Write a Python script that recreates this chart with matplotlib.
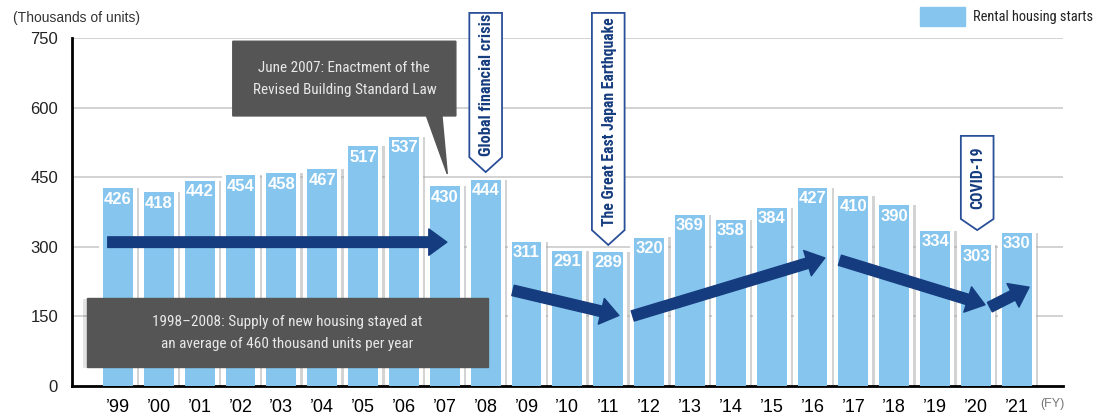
import matplotlib
matplotlib.use("Agg")
import matplotlib.pyplot as plt
import matplotlib.patheffects as pe
from matplotlib.patches import Polygon, Rectangle
from matplotlib import font_manager

years = ["’99", "’00", "’01", "’02", "’03", "’04", "’05", "’06", "’07", "’08", "’09", "’10",
         "’11", "’12", "’13", "’14", "’15", "’16", "’17", "’18", "’19", "’20", "’21"]
starts = [426, 418, 442, 454, 458, 467, 517, 537, 430, 444, 311, 291,
          289, 320, 369, 358, 384, 427, 410, 390, 334, 303, 330]
y_ticks = [0, 150, 300, 450, 600, 750]

BLUE = "#85c5ee"
NAVY = "#153c7e"
BOX = "#555555"

names = {f.name for f in font_manager.fontManager.ttflist}
NARROW = next((n for n in ["Liberation Sans Narrow", "Roboto Condensed", "Roboto"] if n in names),
              "Liberation Sans")
plt.rcParams["font.family"] = ["Liberation Sans", "DejaVu Sans"]

fig = plt.figure(figsize=(10.97, 4.16), dpi=100)
ax = fig.add_axes([0.0656, 0.0721, 0.9034, 0.8366])
ax.set_xlim(-1.126, 23.13)
ax.set_ylim(0, 750)
renderer = fig.canvas.get_renderer()


def fit(txt, target_px, vertical=False):
    # shrink or grow a text so its longest side spans target_px pixels
    bb = txt.get_window_extent(renderer)
    size = bb.height if vertical else bb.width
    txt.set_fontsize(txt.get_fontsize() * target_px / size)


for y in y_ticks[1:]:
    ax.axhline(y, color="#cfcfcf", lw=1.3, zorder=0)

x = list(range(len(starts)))
# white frame with a soft shadow, then the blue bar inside it
frames = ax.bar(x, [v + 4 for v in starts], width=0.93, color="white", zorder=2)
for r in frames:
    r.set_path_effects([pe.SimplePatchShadow(offset=(1.8, -1.2), shadow_rgbFace="#a8a8a8", alpha=0.5),
                        pe.Normal()])
ax.bar(x, starts, width=0.73, color=BLUE, zorder=3)

for i, v in enumerate(starts):
    ax.annotate(str(v), (i, v), xytext=(0, -2.5), textcoords="offset points",
                ha="center", va="top", color="white", fontsize=12, fontweight="bold", zorder=4)

ax.set_xticks(x)
ax.set_xticklabels(years, fontsize=13)
ax.set_yticks(y_ticks)
ax.set_yticklabels([str(t) for t in y_ticks], fontsize=12, color="#222222")
ax.tick_params(length=0, pad=10)
ax.tick_params(axis="x", pad=9)
for s in ["top", "right"]:
    ax.spines[s].set_visible(False)
for s in ["left", "bottom"]:
    ax.spines[s].set_linewidth(2)

fig.text(13 / 1097, 1 - 18 / 416, "(Thousands of units)", fontsize=10, color="#333333", va="center")
fig.text(1040 / 1097, 1 - 404 / 416, "(FY)", fontsize=9, color="#777777", va="center")

# legend
fig.patches.append(Rectangle((920 / 1097, 1 - 26 / 416), 45 / 1097, 19 / 416,
                             transform=fig.transFigure, color=BLUE))
leg = fig.text(973 / 1097, 1 - 17 / 416, "Rental housing starts", fontsize=12, family=NARROW,
               color="#222222", va="center")
fit(leg, 120)

# dark callout boxes
law = Polygon([(2.81, 743), (8.27, 743), (8.27, 582), (7.93, 582), (8.06, 457),
               (7.55, 582), (2.81, 582)], closed=True, color=BOX, zorder=6)
ax.add_patch(law)
t = ax.text(5.54, 662, "June 2007: Enactment of the\nRevised Building Standard Law",
            ha="center", va="center", color="#e8e8e8", fontsize=12, family=NARROW,
            linespacing=1.75, zorder=7)
fit(t, 183)

avg = Rectangle((-0.76, 41), 9.82, 149, color=BOX, zorder=6,
                path_effects=[pe.SimplePatchShadow(offset=(-3, -1), alpha=0.12), pe.Normal()])
ax.add_patch(avg)
t = ax.text(4.15, 115, "1998–2008: Supply of new housing stayed at\nan average of 460 thousand units per year",
            ha="center", va="center", color="#e8e8e8", fontsize=12, family=NARROW,
            linespacing=1.75, zorder=7)
fit(t, 269)


def event_tag(xc, top, body_bottom, tip, label, length):
    half = 0.4
    tag = Polygon([(xc - half, top), (xc + half, top), (xc + half, body_bottom),
                   (xc, tip), (xc - half, body_bottom)], closed=True,
                  facecolor="white", edgecolor="#2a4f99", lw=1.3, zorder=6, clip_on=False)
    ax.add_patch(tag)
    lab = ax.text(xc + 0.02, (top + body_bottom) / 2, label, rotation=90, ha="center", va="center",
                  color=NAVY, fontsize=12, fontweight="bold", family=NARROW, zorder=7, clip_on=False)
    fit(lab, length, vertical=True)


event_tag(9.0, 804, 493, 461, "Global financial crisis", 142)
event_tag(12.0, 804, 336, 304, "The Great East Japan Earthquake", 210)
event_tag(21.03, 539, 360, 336, "COVID-19", 62)

# trend arrows
trends = [((-0.25, 310), (8.05, 310)),
          ((9.67, 206), (12.26, 152)),
          ((12.6, 151), (17.3, 276)),
          ((17.67, 271), (21.22, 175)),
          ((21.34, 170), (22.3, 213))]
for start, end in trends:
    ax.annotate("", xy=end, xytext=start, zorder=8,
                arrowprops=dict(arrowstyle="simple,head_length=0.65,head_width=0.95,tail_width=0.38",
                                color=NAVY, shrinkA=0, shrinkB=0, mutation_scale=20))

fig.savefig("out.png", dpi=100)
